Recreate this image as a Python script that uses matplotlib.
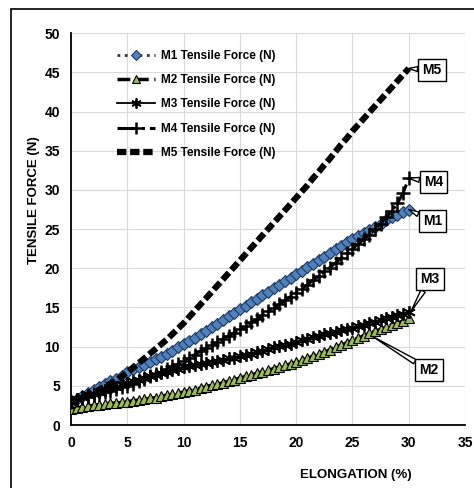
import matplotlib
matplotlib.use("Agg")
import matplotlib.pyplot as plt
from matplotlib.patches import Rectangle

# elongation (%) sampled every 0.5 %
elong = [i * 0.5 for i in range(61)]

m1 = [3.0, 3.3, 3.7, 4.1, 4.5, 4.9, 5.2, 5.6, 5.9, 6.3, 6.8,
      7.1, 7.4, 7.7, 8.0, 8.4, 8.7, 9.1, 9.5, 9.9, 10.3,
      10.7, 11.1, 11.6, 12.0, 12.5, 12.9, 13.4, 13.9, 14.3, 14.8,
      15.2, 15.7, 16.1, 16.6, 17.0, 17.5, 17.9, 18.4, 18.8, 19.3,
      19.7, 20.2, 20.6, 21.1, 21.5, 22.0, 22.4, 22.9, 23.3, 23.7,
      24.1, 24.5, 24.9, 25.3, 25.7, 26.1, 26.5, 26.8, 27.2, 27.5]
m2 = [2.0, 2.2, 2.3, 2.4, 2.5, 2.6, 2.7, 2.8, 2.8, 2.9, 3.0,
      3.1, 3.2, 3.3, 3.4, 3.5, 3.7, 3.8, 3.9, 4.1, 4.2,
      4.4, 4.5, 4.7, 4.9, 5.1, 5.2, 5.4, 5.6, 5.8, 6.0,
      6.2, 6.4, 6.6, 6.8, 7.0, 7.2, 7.4, 7.6, 7.8, 8.0,
      8.3, 8.5, 8.8, 9.1, 9.3, 9.6, 9.9, 10.2, 10.5, 10.8,
      11.1, 11.4, 11.7, 12.0, 12.2, 12.5, 12.8, 13.0, 13.3, 13.6]
m3 = [3.0, 3.3, 3.6, 3.8, 4.0, 4.2, 4.5, 4.7, 4.9, 5.2, 5.4,
      5.6, 5.8, 6.0, 6.2, 6.4, 6.6, 6.8, 7.0, 7.2, 7.4,
      7.5, 7.7, 7.8, 7.9, 8.1, 8.2, 8.3, 8.5, 8.6, 8.8,
      9.0, 9.1, 9.3, 9.5, 9.7, 9.9, 10.1, 10.2, 10.4, 10.6,
      10.8, 11.0, 11.2, 11.4, 11.6, 11.7, 11.9, 12.1, 12.2, 12.4,
      12.6, 12.8, 13.0, 13.2, 13.4, 13.6, 13.8, 14.0, 14.2, 14.4]
m4 = [3.0, 3.2, 3.4, 3.6, 3.8, 4.0, 4.2, 4.4, 4.6, 4.8, 5.0,
      5.3, 5.6, 5.9, 6.2, 6.5, 6.8, 7.1, 7.5, 7.8, 8.2,
      8.6, 9.0, 9.4, 9.8, 10.2, 10.6, 11.0, 11.4, 11.8, 12.2,
      12.6, 13.1, 13.5, 14.0, 14.5, 14.9, 15.4, 15.9, 16.4, 16.9,
      17.4, 17.9, 18.5, 19.0, 19.6, 20.1, 20.7, 21.3, 21.9, 22.5,
      23.1, 23.7, 24.3, 25.0, 25.7, 26.5, 27.3, 28.3, 29.6, 31.5]
m5 = [3.0, 3.3, 3.6, 3.9, 4.2, 4.5, 4.9, 5.3, 5.7, 6.2, 6.7,
      7.3, 7.9, 8.5, 9.1, 9.7, 10.3, 10.9, 11.6, 12.3, 13.0,
      13.8, 14.6, 15.4, 16.2, 17.0, 17.8, 18.6, 19.4, 20.2, 21.0,
      21.8, 22.6, 23.4, 24.2, 25.0, 25.8, 26.6, 27.4, 28.2, 29.0,
      29.8, 30.6, 31.5, 32.3, 33.2, 34.0, 34.9, 35.8, 36.6, 37.5,
      38.3, 39.1, 39.9, 40.7, 41.5, 42.3, 43.1, 43.9, 44.7, 45.5]

labels = ["M1 Tensile Force (N)", "M2 Tensile Force (N)", "M3 Tensile Force (N)",
          "M4 Tensile Force (N)", "M5 Tensile Force (N)"]

# callout: name, end point, box position
callouts = [("M5", (30, 45.5), (32.05, 45.3)),
            ("M4", (30, 31.5), (32.2, 31.0)),
            ("M1", (30, 27.5), (32.1, 26.0)),
            ("M3", (30.2, 14.5), (31.9, 18.6)),
            ("M2", (26.8, 11.3), (31.8, 7.0))]

fam = ["Liberation Sans Narrow", "Liberation Sans", "DejaVu Sans"]
plt.rcParams['font.family'] = fam
plt.rcParams['font.weight'] = 'bold'

fig = plt.figure(figsize=(4.74, 4.88), dpi=100)
ax = fig.add_axes([0.150, 0.129, 0.831, 0.803])

# outer chart border
fig.patches.append(Rectangle((11 / 474, -0.1), 1.2, 1.1 - 9 / 488,
                             transform=fig.transFigure, fill=False,
                             ec='black', lw=1.2))

ax.plot(elong, m1, ':', color='#333333', lw=2, marker='D', ms=6.5,
        mfc='#4F81BD', mec='#1F3A5F', mew=0.8, label=labels[0], zorder=3)
ax.plot(elong, m2, '--', color='black', lw=2.5, marker='^', ms=7.5,
        mfc='#9BBB59', mec='black', mew=0.8, label=labels[1], zorder=3)
ax.plot(elong, m3, '-', color='black', lw=1.3, marker=(6, 2, 0), ms=9,
        mec='black', mew=1.3, label=labels[2], zorder=4)
ax.plot(elong, m4, '-.', color='black', lw=2.2, marker='+', ms=10,
        mec='black', mew=1.8, label=labels[3], zorder=4)
ax.plot(elong, m5, color='black', lw=4.5, linestyle=(0, (1.5, 0.6)),
        label=labels[4], zorder=4)

ax.set_xlim(0, 35)
ax.set_ylim(0, 50)
ax.set_xticks(range(0, 36, 5))
ax.set_yticks(range(0, 51, 5))
ax.grid(True, color='#d9d9d9', lw=0.8)
ax.set_axisbelow(True)
for s in ['top', 'right']:
    ax.spines[s].set_visible(False)
for s in ['left', 'bottom']:
    ax.spines[s].set_linewidth(1.3)
ax.tick_params(length=0, labelsize=10, pad=8)
for t in ax.get_xticklabels():
    t.set_fontfamily(["Liberation Sans", "DejaVu Sans"])
for t in ax.get_yticklabels():
    t.set_fontfamily(["Liberation Sans", "DejaVu Sans"])

ax.set_ylabel("TENSILE FORCE (N)", fontsize=9.5, fontweight='bold')
ax.yaxis.set_label_coords(-0.078, 0.574)
ax.set_xlabel("ELONGATION (%)", fontsize=9.5, fontweight='bold')
ax.xaxis.set_label_coords(0.722, -0.112)

leg = ax.legend(loc='upper left', bbox_to_anchor=(0.09, 0.985), frameon=False,
                fontsize=8.5, handlelength=3.2, handletextpad=0.5,
                labelspacing=1.05, markerscale=0.8)

for name, pt, box in callouts:
    ax.annotate(name, xy=pt, xytext=box, ha='center', va='center',
                fontsize=10, fontweight='bold', annotation_clip=False,
                bbox=dict(boxstyle='square,pad=0.3', fc='white', ec='black', lw=1),
                arrowprops=dict(arrowstyle='wedge,tail_width=0.35,shrink_factor=0.5',
                                fc='white', ec='black', lw=1, shrinkA=0, shrinkB=0),
                zorder=6)

fig.savefig("out.png", dpi=100)
